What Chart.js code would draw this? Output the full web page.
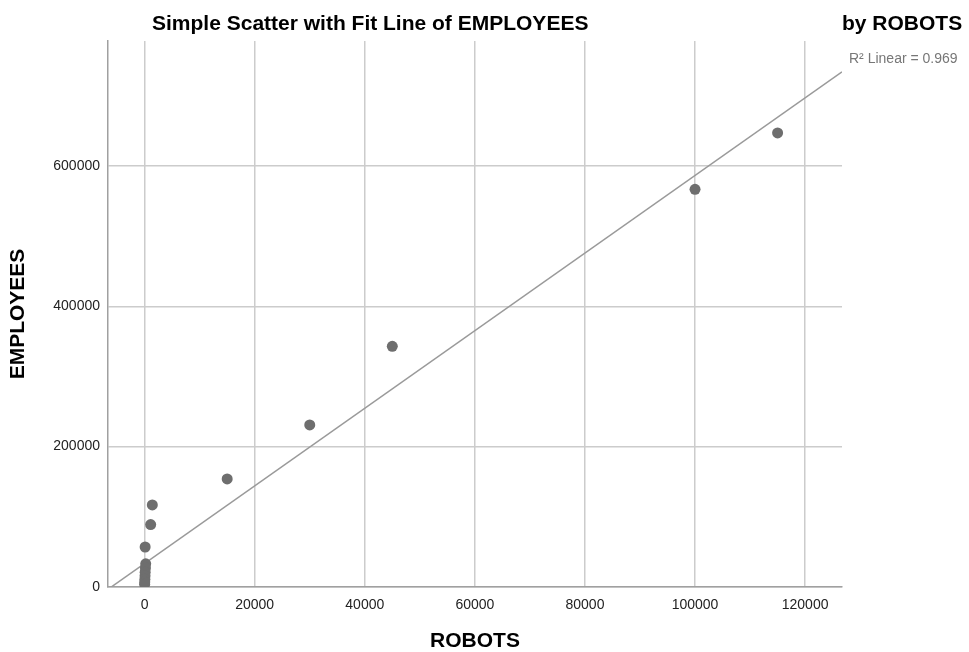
<!DOCTYPE html>
<html><head><meta charset="utf-8">
<script src="https://cdn.jsdelivr.net/npm/chart.js@4"></script>
<style>html,body{margin:0;padding:0;background:#fff}#wrap{width:969px;height:652px}</style>
</head><body><div id="wrap"><canvas id="c" width="969" height="652"></canvas></div>
<script>
// Data
const robots    = [115000, 100000, 45000, 30000, 15000, 1400, 1100, 100, 200, 150, 100, 80, 50, 30, 10];
const employees = [647000, 566700, 343000, 231000, 154000, 117000, 89000, 57000, 33000, 27000, 21000, 16000, 11000, 7000, 4000];
const xTicks = [0, 20000, 40000, 60000, 80000, 100000, 120000];
const yTicks = [0, 200000, 400000, 600000];
const xRange = [-6650, 126700];
const yRange = [0, 778000];
const fitIntercept = 33500;
const fitSlope = 5.53;
const rSquared = 0.969;
const titleMain = 'Simple Scatter with Fit Line of EMPLOYEES';
const titleBy = 'by ROBOTS';
const xTitle = 'ROBOTS';
const yTitle = 'EMPLOYEES';

const FONT = '"Liberation Sans", Arial, sans-serif';
Chart.defaults.font.family = FONT;

const points = robots.map((x, i) => ({x: x, y: employees[i]}));
const fitLine = xRange.map(x => ({x: x, y: fitIntercept + fitSlope * x}));

const titlePlugin = {
  id: 'spssTitle',
  afterDraw(chart) {
    const ctx = chart.ctx;
    ctx.save();
    ctx.textBaseline = 'alphabetic';
    ctx.textAlign = 'left';
    ctx.fillStyle = '#000';
    ctx.font = 'bold 21px ' + FONT;
    ctx.fillText(titleMain, 152, 30);
    ctx.fillText(titleBy, 842, 30);
    ctx.fillStyle = '#777';
    ctx.font = '14px ' + FONT;
    ctx.fillText('R\u00B2 Linear = ' + rSquared.toFixed(3), 849, 63);
    ctx.restore();
  }
};

new Chart(document.getElementById('c'), {
  type: 'scatter',
  data: {
    datasets: [
      {
        type: 'line',
        data: fitLine,
        borderColor: '#9a9a9a',
        borderWidth: 1.5,
        pointRadius: 0,
        fill: false,
        order: 2
      },
      {
        type: 'scatter',
        data: points,
        backgroundColor: '#6e6e6e',
        borderColor: '#6e6e6e',
        borderWidth: 0,
        pointRadius: 5.5,
        order: 1
      }
    ]
  },
  options: {
    responsive: false,
    devicePixelRatio: 1,
    animation: false,
    layout: {padding: {top: 41, right: 127, left: 0, bottom: 0}},
    plugins: {legend: {display: false}, tooltip: {enabled: false}, title: {display: false}},
    scales: {
      x: {
        type: 'linear',
        position: 'bottom',
        min: xRange[0],
        max: xRange[1],
        afterBuildTicks: s => { s.ticks = xTicks.map(v => ({value: v})); },
        afterFit: s => { s.height = 65; },
        grid: {color: '#cccccc', lineWidth: 1.5, drawTicks: false},
        border: {color: '#a0a0a0', width: 1.5},
        ticks: {padding: 10, color: '#222', font: {size: 14}, maxRotation: 0, callback: v => String(v)},
        title: {display: true, text: xTitle, color: '#000', font: {size: 21, weight: 'bold', lineHeight: 1}, padding: 0}
      },
      y: {
        type: 'linear',
        min: yRange[0],
        max: yRange[1],
        afterBuildTicks: s => { s.ticks = yTicks.map(v => ({value: v})); },
        afterFit: s => { s.width = 108; },
        grid: {color: '#cccccc', lineWidth: 1.5, drawTicks: false},
        border: {color: '#a0a0a0', width: 1.5},
        ticks: {padding: 8, color: '#222', font: {size: 14}, callback: v => String(v)},
        title: {display: true, text: yTitle, color: '#000', font: {size: 21, weight: 'bold', lineHeight: 1}, padding: {top: 8, bottom: 0}}
      }
    }
  },
  plugins: [titlePlugin]
});
</script>
</body></html>
